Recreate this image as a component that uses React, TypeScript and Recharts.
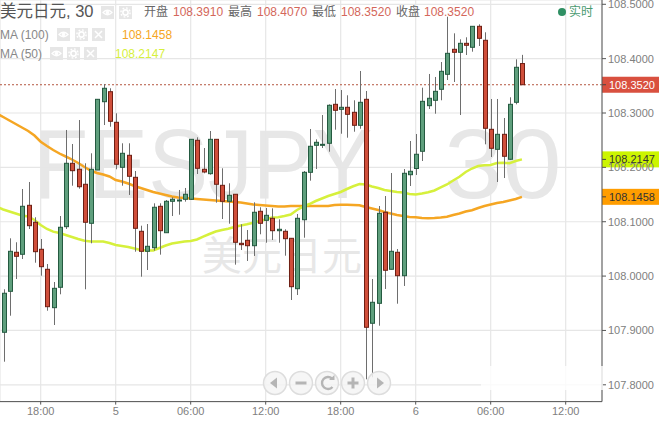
import { Bar, CartesianGrid, ComposedChart, Line, ReferenceLine, XAxis, YAxis } from 'recharts';

const opens = [
  107.8966, 107.972, 108.0438, 108.0401, 108.1302, 108.099, 108.0493, 108.0125, 107.9419, 107.9794,
  108.0909, 108.2075, 108.1965, 108.1689, 108.0971, 108.1952, 108.3208, 108.3392, 108.2829, 108.2001,
  108.2222, 108.1817, 108.0824, 108.0456, 108.0522, 108.1284, 108.0798, 108.1376, 108.1387, 108.1413,
  108.1413, 108.2498, 108.1965, 108.1884, 108.2516, 108.167, 108.1376, 108.1505, 108.0603, 108.0658,
  108.0559, 108.1192, 108.1026, 108.1063, 108.0835, 108.0824, 108.0695, 107.9768, 108.1037, 108.1909,
  108.2406, 108.2417, 108.2443, 108.316, 108.3068, 108.3105, 108.3013, 108.2774, 108.3252, 107.9132,
  107.9499, 108.1174, 108.0125, 108.0438, 108.0007, 108.1865, 108.1979, 108.2296, 108.3135, 108.3234,
  108.3436, 108.3712, 108.4172, 108.4117, 108.4282, 108.4209, 108.4595, 108.4338, 108.27, 108.2332,
  108.2608, 108.2149, 108.3197, 108.391,
];
const highs = [
  107.9757, 108.0695, 108.0622, 108.1602, 108.1731, 108.1082, 108.0682, 108.0222, 107.9891, 108.1105,
  108.2688, 108.243, 108.2871, 108.2075, 108.2259, 108.3258, 108.3534, 108.3455, 108.2995, 108.2443,
  108.2443, 108.1933, 108.0927, 108.0958, 108.1339, 108.1339, 108.14, 108.1449, 108.1584, 108.1621,
  108.252, 108.2553, 108.2356, 108.2669, 108.252, 108.1983, 108.1707, 108.151, 108.0953, 108.0848,
  108.1357, 108.1266, 108.1253, 108.1247, 108.1045, 108.0861, 108.07, 108.1142, 108.1933, 108.2706,
  108.2516, 108.2963, 108.316, 108.3442, 108.3423, 108.3326, 108.3234, 108.3773, 108.3405, 107.9946,
  108.1289, 108.1473, 108.1896, 108.0498, 108.197, 108.2485, 108.2614, 108.3466, 108.3718, 108.3663,
  108.3938, 108.4772, 108.4466, 108.4356, 108.4393, 108.46, 108.4632, 108.4485, 108.3258, 108.3258,
  108.2908, 108.3289, 108.3988, 108.407,
];
const lows = [
  107.8425, 107.9271, 107.9946, 108.0314, 108.0866, 108.0246, 108.0007, 107.9363, 107.91, 107.9665,
  108.0866, 108.1663, 108.1608, 107.9757, 108.0603, 108.1952, 108.2779, 108.2748, 108.1965, 108.1663,
  108.1492, 108.0449, 107.9989, 108.0112, 108.0467, 108.0394, 108.0798, 108.1105, 108.1129, 108.1369,
  108.14, 108.1878, 108.1891, 108.1865, 108.135, 108.105, 108.0964, 108.021, 108.048, 108.0278,
  108.037, 108.0769, 108.0614, 108.0664, 108.0614, 108.0375, 107.956, 107.9652, 108.0706, 108.1755,
  108.197, 108.2356, 108.2288, 108.2693, 108.2619, 108.2546, 108.2656, 108.2711, 107.8101, 107.8138,
  107.9087, 107.9763, 108.0121, 107.9492, 107.9818, 108.1657, 108.186, 108.2117, 108.3074, 108.2987,
  108.3234, 108.3607, 108.3571, 108.2963, 108.4067, 108.4128, 108.4233, 108.2424, 108.2191, 108.1731,
  108.1804, 108.2136, 108.316, 108.352,
];
const closes = [
  107.9684, 108.0456, 108.0364, 108.1284, 108.0927, 108.0449, 108.0173, 107.9437, 107.9775, 108.0898,
  108.2075, 108.1939, 108.1644, 108.099, 108.1965, 108.3252, 108.3455, 108.2848, 108.2057, 108.2259,
  108.1836, 108.0879, 108.0456, 108.0548, 108.1266, 108.0835, 108.1376, 108.1413, 108.14, 108.1505,
  108.2516, 108.1983, 108.1915, 108.2516, 108.1689, 108.1376, 108.1486, 108.0622, 108.0578, 108.0559,
  108.1174, 108.0971, 108.1118, 108.0835, 108.0861, 108.0688, 107.9805, 108.1063, 108.1909, 108.2388,
  108.2461, 108.2424, 108.3142, 108.305, 108.3105, 108.2976, 108.2774, 108.3197, 107.9058, 107.9518,
  108.1155, 108.0107, 108.0456, 108.0007, 108.1891, 108.1928, 108.2241, 108.3215, 108.3271, 108.3399,
  108.3767, 108.4098, 108.4117, 108.4282, 108.4246, 108.4595, 108.4374, 108.2719, 108.2351, 108.2608,
  108.2204, 108.316, 108.3841, 108.352,
];
// the averages start one bar earlier, just off the left edge
const ma100 = [
  108.2991,
  108.2927, 108.2862, 108.2798, 108.2734, 108.2669, 108.2586, 108.2472, 108.2393, 108.232, 108.2255,
  108.22, 108.2145, 108.208, 108.2007, 108.1942, 108.1896, 108.1869, 108.1832, 108.1768, 108.174,
  108.1703, 108.1657, 108.1621, 108.1584, 108.1547, 108.1519, 108.1492, 108.1464, 108.1446, 108.1437,
  108.1427, 108.1418, 108.1409, 108.14, 108.1391, 108.1381, 108.1372, 108.1363, 108.1354, 108.1335,
  108.1317, 108.1308, 108.1299, 108.1289, 108.128, 108.128, 108.1289, 108.1289, 108.1289, 108.1289,
  108.1289, 108.1289, 108.1289, 108.1308, 108.1312, 108.1312, 108.1308, 108.1304, 108.1271, 108.1243,
  108.1216, 108.1179, 108.1151, 108.1124, 108.1105, 108.1087, 108.1082, 108.1069, 108.1063, 108.1069,
  108.1078, 108.1091, 108.1124, 108.1151, 108.1188, 108.1212, 108.1253, 108.1289, 108.1317, 108.1345,
  108.1363, 108.1391, 108.1418, 108.1458,
];
const ma50 = [
  108.1271,
  108.1225, 108.1188, 108.1151, 108.1115, 108.1096, 108.1032, 108.094, 108.0866, 108.0817, 108.0793,
  108.0756, 108.0719, 108.0682, 108.0649, 108.0636, 108.0636, 108.0636, 108.0609, 108.0572, 108.0554,
  108.0535, 108.0508, 108.048, 108.0471, 108.0471, 108.0517, 108.0563, 108.06, 108.0618, 108.0636,
  108.0646, 108.0673, 108.0725, 108.0774, 108.082, 108.0848, 108.0872, 108.0903, 108.0931, 108.0953,
  108.0982, 108.1013, 108.1041, 108.1078, 108.1082, 108.1105, 108.1133, 108.1216, 108.1277, 108.1326,
  108.1381, 108.1427, 108.1473, 108.151, 108.1547, 108.1602, 108.1652, 108.1694, 108.1685, 108.1648,
  108.1621, 108.1584, 108.1565, 108.1547, 108.1538, 108.151, 108.1501, 108.1519, 108.1541, 108.1575,
  108.163, 108.1685, 108.1759, 108.1827, 108.1915, 108.1979, 108.2025, 108.2038, 108.2044, 108.208,
  108.2084, 108.2075, 108.2117, 108.2147,
];

const priceTicks = [107.8, 107.9, 108.0, 108.1, 108.2, 108.3, 108.4, 108.5];
const timeTicks = [0, 12, 24, 36, 48, 60, 72, 84];
const timeLabels = ['18:00', '5', '06:00', '12:00', '18:00', '6', '06:00', '12:00'];

const lastClose = 108.352;
const lastMa100 = 108.1458;
const lastMa50 = 108.2147;

const candles = ma100.map((value, i) => ({
  slot: i - 7,
  open: opens[i - 1],
  high: highs[i - 1],
  low: lows[i - 1],
  close: closes[i - 1],
  ma100: value,
  ma50: ma50[i],
}));

const FONT = '"Liberation Sans", Arial, sans-serif';
const CJK = '"Liberation Sans", "Noto Sans CJK SC", sans-serif';

function Candle(props: any) {
  const { x, y, width, height, payload } = props;
  const { open, high, low, close } = payload;
  if (high === undefined) return null;
  const up = close >= open;
  const perUnit = Math.abs(height) / (high - low);
  const top = y + (high - Math.max(open, close)) * perUnit;
  const bodyHeight = Math.max(Math.abs(open - close) * perUnit, 1);
  const cx = Math.round(x + width / 2) + 0.5;
  return (
    <g>
      <line x1={cx} x2={cx} y1={y} y2={y + Math.abs(height)} stroke="#6e6e6e" strokeWidth={1} />
      <rect
        x={cx - 2}
        y={top}
        width={4}
        height={bodyHeight}
        fill={up ? '#5f9f7d' : '#d04f3b'}
        stroke={up ? '#245a40' : '#6e1f14'}
        strokeWidth={1}
      />
    </g>
  );
}

const priceBadge = (text: string, fill: string, color: string) => (props: any) => {
  const { viewBox } = props;
  const right = viewBox.x + viewBox.width;
  return (
    <g>
      <rect x={right} y={viewBox.y - 8} width={57} height={16} fill={fill} />
      <line x1={right} x2={right + 4} y1={viewBox.y} y2={viewBox.y} stroke="#444" />
      <text x={right + 7} y={viewBox.y + 4} fontSize={11} fontFamily={FONT} fill={color}>
        {text}
      </text>
    </g>
  );
};

function Chip({ left, top, kind }: { left: number; top: number; kind: 'eye' | 'gear' | 'close' }) {
  return (
    <svg width={13} height={13} style={{ position: 'absolute', left, top }}>
      <rect width={13} height={13} fill="#e6e6e6" />
      {kind === 'eye' && (
        <g fill="none" stroke="#fff" strokeWidth={1.2}>
          <path d="M2 6.5 Q6.5 2 11 6.5 Q6.5 11 2 6.5 Z" />
          <circle cx={6.5} cy={6.5} r={1.2} fill="#fff" />
        </g>
      )}
      {kind === 'gear' && (
        <g fill="none" stroke="#fff">
          <circle cx={6.5} cy={6.5} r={2.6} strokeWidth={1.6} />
          <circle cx={6.5} cy={6.5} r={4.6} strokeWidth={1.4} strokeDasharray="1.8 1.8" />
        </g>
      )}
      {kind === 'close' && <path d="M3 3 L10 10 M10 3 L3 10" stroke="#fff" strokeWidth={1.5} />}
    </svg>
  );
}

function Label({ left, top, size = 12, color, children }: any) {
  return (
    <div style={{ position: 'absolute', left, top, fontSize: size, lineHeight: '14px', color, whiteSpace: 'nowrap', fontFamily: CJK }}>
      {children}
    </div>
  );
}

function NavButtons() {
  const centers = [275, 301, 327, 353, 379];
  return (
    <svg width={659} height={421} style={{ position: 'absolute', left: 0, top: 0, pointerEvents: 'none' }}>
      {centers.map((cx) => (
        <circle key={cx} cx={cx} cy={383} r={11.5} fill="#f4f4f4" fillOpacity={0.85} stroke="#dddddd" strokeWidth={1.5} />
      ))}
      <path d="M270 383 L277 377.5 L277 388.5 Z" fill="#b5b5b5" />
      <rect x={295.5} y={381.5} width={11} height={3} fill="#b5b5b5" />
      <path d="M332 378.5 A6 6 0 1 0 332.5 387" fill="none" stroke="#b5b5b5" strokeWidth={2.4} />
      <path d="M329 380 L334.5 380 L334.5 375 Z" fill="#b5b5b5" />
      <rect x={347.5} y={381.5} width={11} height={3} fill="#b5b5b5" />
      <rect x={351.5} y={377.5} width={3} height={11} fill="#b5b5b5" />
      <path d="M384 383 L377 377.5 L377 388.5 Z" fill="#b5b5b5" />
    </svg>
  );
}

export default function App() {
  return (
    <div style={{ position: 'absolute', left: 0, top: 0, width: 659, height: 421, background: '#fff', overflow: 'hidden' }}>
      <div style={{ position: 'absolute', left: 33, top: 108, fontSize: 98, lineHeight: '112px', color: '#e7e7e7', fontFamily: FONT, whiteSpace: 'nowrap', transform: 'scaleX(0.915)', transformOrigin: '7px 0' }}>
        FESJPY
      </div>
      <div style={{ position: 'absolute', left: 444, top: 108, fontSize: 98, lineHeight: '112px', color: '#e7e7e7', fontFamily: FONT, whiteSpace: 'nowrap', transform: 'scaleX(1.08)', transformOrigin: '0 0' }}>
        30
      </div>
      <div style={{ position: 'absolute', left: 202, top: 228, fontSize: 40, lineHeight: '50px', color: '#e7e7e7', fontFamily: '"Noto Sans CJK SC", sans-serif', whiteSpace: 'nowrap' }}>
        美元日元
      </div>

      <div style={{ position: 'absolute', left: 0, top: 0 }}>
        <ComposedChart width={659} height={421} data={candles} margin={{ top: 0, right: 0, bottom: 0, left: 0 }}>
          <CartesianGrid stroke="#e6e6e6" strokeWidth={1.2} />
          <XAxis
            dataKey="slot"
            type="number"
            domain={[-6.512, 89.81]}
            allowDataOverflow
            ticks={timeTicks}
            height={19.4}
            interval={0}
            tickSize={3}
            tickMargin={3}
            stroke="#555"
            tick={{ fontSize: 11, fontFamily: FONT, fill: '#808080' }}
            tickFormatter={(value: number) => timeLabels[timeTicks.indexOf(value)]}
          />
          <YAxis
            orientation="right"
            domain={[107.7691, 108.5079]}
            allowDataOverflow
            ticks={priceTicks}
            width={57}
            interval={0}
            tickSize={4}
            tickMargin={2}
            stroke="#555"
            tick={{ fontSize: 11, fontFamily: FONT, fill: '#808080', textAnchor: 'start' }}
            tickFormatter={(value: number) => value.toFixed(4)}
          />
          <Line type="linear" dataKey="ma100" stroke="#f5a623" strokeWidth={2.5} dot={false} activeDot={false} isAnimationActive={false} zIndex={100} />
          <Line type="linear" dataKey="ma50" stroke="#d6f03c" strokeWidth={2.5} dot={false} activeDot={false} isAnimationActive={false} zIndex={100} />
          <Bar dataKey={(d: any) => [d.low, d.high]} barSize={5} shape={Candle} isAnimationActive={false} zIndex={500} />
          <ReferenceLine y={lastClose} stroke="#b4553f" strokeDasharray="2 2" label={priceBadge('108.3520', '#d9503f', '#ffffff')} />
          <ReferenceLine y={lastMa50} stroke="none" label={priceBadge('108.2147', '#ccf500', '#333333')} />
          <ReferenceLine y={lastMa100} stroke="none" label={priceBadge('108.1458', '#ff9d00', '#333333')} />
        </ComposedChart>
      </div>

      <Label left={0} top={4} size={16.5} color="#555">美元日元, 30</Label>
      <Chip left={101} top={6} kind="eye" />
      <Chip left={119} top={6} kind="gear" />
      <Label left={144} top={5} color="#666">开盘</Label>
      <Label left={173} top={5} color="#d4675a">108.3910</Label>
      <Label left={228} top={5} color="#666">最高</Label>
      <Label left={257} top={5} color="#d4675a">108.4070</Label>
      <Label left={312} top={5} color="#666">最低</Label>
      <Label left={341} top={5} color="#d4675a">108.3520</Label>
      <Label left={396} top={5} color="#666">收盘</Label>
      <Label left={424} top={5} color="#d4675a">108.3520</Label>

      <Label left={0} top={28} color="#888">MA (100)</Label>
      <Chip left={57} top={28} kind="eye" />
      <Chip left={75} top={28} kind="gear" />
      <Chip left={92} top={28} kind="close" />
      <Label left={122} top={28} color="#f5a623">108.1458</Label>
      <Label left={0} top={47} color="#888">MA (50)</Label>
      <Chip left={50} top={47} kind="eye" />
      <Chip left={67} top={47} kind="gear" />
      <Chip left={84} top={47} kind="close" />
      <Label left={115} top={47} color="#d6f03c">108.2147</Label>

      <div style={{ position: 'absolute', left: 558, top: 8, width: 8, height: 8, borderRadius: 4, background: '#2f8f63' }} />
      <Label left={569} top={5} color="#4a9a70">实时</Label>

      <NavButtons />
      <div style={{ position: 'absolute', left: 481, top: 366, width: 122, height: 24, background: 'rgba(255,255,255,0.8)' }} />
    </div>
  );
}
